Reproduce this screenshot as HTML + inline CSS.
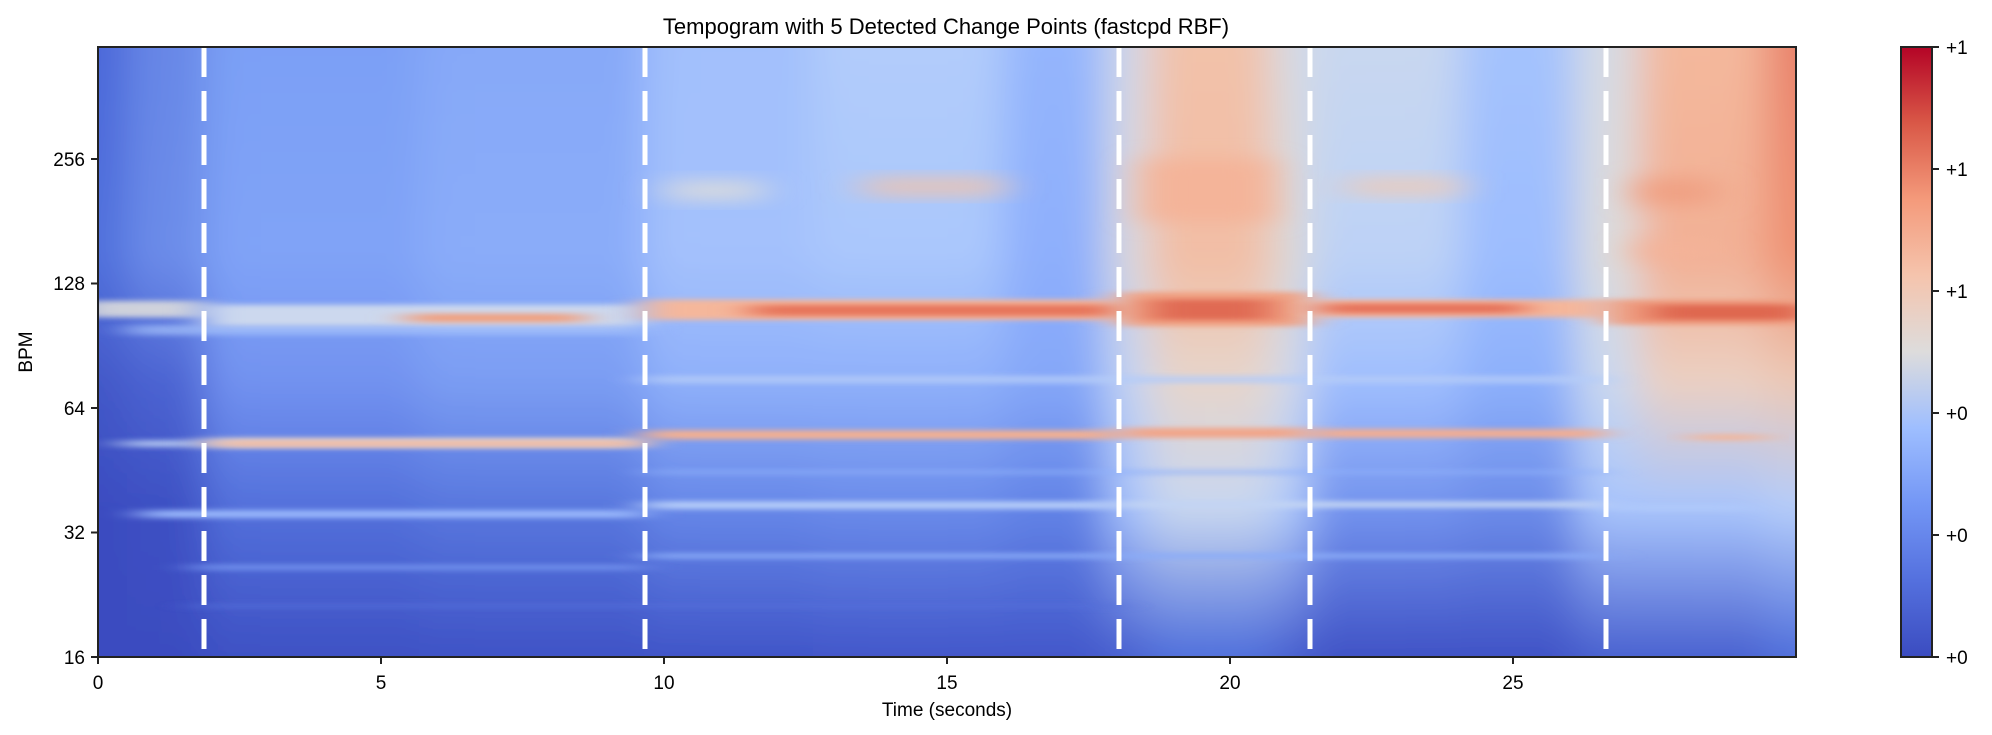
<!DOCTYPE html>
<html><head><meta charset="utf-8"><style>
html,body{margin:0;padding:0;background:#fff;}
svg{display:block;font-family:"Liberation Sans","DejaVu Sans",sans-serif;}
</style></head><body>
<svg width="1992" height="735" viewBox="0 0 1992 735" xmlns="http://www.w3.org/2000/svg">
<defs>
<clipPath id="pc"><rect x="77" y="37" width="1336" height="480"/></clipPath>
<filter id="bc" x="-10%" y="-10%" width="120%" height="120%"><feGaussianBlur stdDeviation="16 10"/></filter>
<filter id="bb" x="-30%" y="-300%" width="160%" height="700%"><feGaussianBlur stdDeviation="14 2"/></filter>
<filter id="bs" x="-60%" y="-60%" width="220%" height="220%"><feGaussianBlur stdDeviation="16 7"/></filter>
<linearGradient id="cb" x1="0" y1="1" x2="0" y2="0">
<stop offset="0" stop-color="#3b4cc0"/><stop offset="0.125" stop-color="#5470de"/>
<stop offset="0.25" stop-color="#7396f5"/><stop offset="0.375" stop-color="#9ebeff"/>
<stop offset="0.5" stop-color="#dddcdc"/><stop offset="0.625" stop-color="#f5c4ad"/>
<stop offset="0.75" stop-color="#f49a7b"/><stop offset="0.875" stop-color="#d95847"/>
<stop offset="1" stop-color="#b40426"/></linearGradient>
</defs>
<g transform="scale(1.2704 1.2694)">
<g clip-path="url(#pc)">
<g filter="url(#bc)">
<g id="cols"></g>
</g>
<g id="bands"></g>
</g>
</g>
<g stroke="#fff" stroke-width="5" stroke-dasharray="30 14">
<line x1="204" y1="47" x2="204" y2="657"/><line x1="645" y1="47" x2="645" y2="657"/>
<line x1="1119" y1="47" x2="1119" y2="657"/><line x1="1310" y1="47" x2="1310" y2="657"/>
<line x1="1606" y1="47" x2="1606" y2="657"/></g>
<rect x="98" y="47" width="1698" height="610" fill="none" stroke="#222" stroke-width="2"/>
<g stroke="#222" stroke-width="2">
<line x1="98" y1="657" x2="98" y2="664"/><line x1="381" y1="657" x2="381" y2="664"/>
<line x1="664" y1="657" x2="664" y2="664"/><line x1="947" y1="657" x2="947" y2="664"/>
<line x1="1230" y1="657" x2="1230" y2="664"/><line x1="1513" y1="657" x2="1513" y2="664"/>
<line x1="91" y1="657" x2="98" y2="657"/><line x1="91" y1="532.5" x2="98" y2="532.5"/>
<line x1="91" y1="408" x2="98" y2="408"/><line x1="91" y1="283.5" x2="98" y2="283.5"/>
<line x1="91" y1="159" x2="98" y2="159"/></g>
<g font-size="19" fill="#000" text-anchor="middle">
<text x="98" y="689">0</text><text x="381" y="689">5</text><text x="664" y="689">10</text>
<text x="947" y="689">15</text><text x="1230" y="689">20</text><text x="1513" y="689">25</text>
<text x="947" y="716">Time (seconds)</text>
<text x="946" y="34" font-size="22">Tempogram with 5 Detected Change Points (fastcpd RBF)</text>
<text transform="translate(32 352) rotate(-90)">BPM</text>
</g>
<g font-size="19" fill="#000" text-anchor="end">
<text x="85" y="664">16</text><text x="85" y="539">32</text><text x="85" y="415">64</text>
<text x="85" y="290">128</text><text x="85" y="166">256</text></g>
<rect x="1901" y="47" width="31" height="610" fill="url(#cb)" stroke="#222" stroke-width="2"/>
<g stroke="#222" stroke-width="2">
<line x1="1932" y1="47" x2="1939" y2="47"/><line x1="1932" y1="169" x2="1939" y2="169"/>
<line x1="1932" y1="291" x2="1939" y2="291"/><line x1="1932" y1="413" x2="1939" y2="413"/>
<line x1="1932" y1="535" x2="1939" y2="535"/><line x1="1932" y1="657" x2="1939" y2="657"/></g>
<g font-size="19" fill="#000">
<text x="1946" y="54">+1</text><text x="1946" y="176">+1</text><text x="1946" y="298">+1</text>
<text x="1946" y="420">+0</text><text x="1946" y="542">+0</text><text x="1946" y="664">+0</text></g>
<script>
(function(){
var NS="http://www.w3.org/2000/svg";
var defs=document.querySelector("defs");
var cols=[
[40,100,["#4a66d8","#5070dc","#4358c8","#3b4cc0","#3b4cc0"]],
[100,161,["#6686e6","#6c8ce9","#4c64d2","#3d50c3","#3b4cc0"]],
[161,330,["#7b9ff5","#80a3f7","#7292f0","#5370db","#3e51c4"]],
[330,507,["#86a8f8","#8aacf9","#7b9df3","#5877de","#3f53c6"]],
[507,640,["#a2c0fc","#a4c1fc","#8fb0fa","#6687e8","#4055c8"]],
[640,790,["#b3cdfa","#aac7fc","#8fb0fa","#6a8bea","#4257ca"]],
[790,870,["#95b6fd","#8eaffc","#85a7f8","#6283e6","#4257ca"]],
[870,905,["#d0d9ea","#d8d9df","#c2d4f4","#a6c2fc","#4a62d0"]],
[905,1000,["#f2c2aa","#f2bea5","#e6d5cb","#c8d7f0","#5070dc"]],
[1000,1031,["#d5dbe5","#dcd9d6","#d0d9ea","#b0cafb","#4a62d0"]],
[1031,1150,["#cad8ef","#bdd2f6","#9fbefe","#7393ee","#4053c6"]],
[1150,1240,["#a5c3fd","#9dbdfe","#8db0fb","#6c8ce9","#4053c6"]],
[1240,1290,["#d5dbe5","#dcdcdc","#cad8ef","#a8c4fc","#4a62d0"]],
[1290,1390,["#f4b99d","#f2b095","#ebd0c2","#a9c5fc","#4a62d0"]],
[1390,1450,["#e8806a","#ef9273","#ecc8b5","#b5cdfa","#5070dc"]]];
var cg=document.getElementById("cols");
cols.forEach(function(c,i){
 var g=document.createElementNS(NS,"linearGradient");g.setAttribute("id","cg"+i);
 g.setAttribute("x1","0");g.setAttribute("y1","0");g.setAttribute("x2","0");g.setAttribute("y2","1");
 var offs=[0,(200-10)/540,(300-10)/540,(400-10)/540,(517-10)/540];
 c[2].forEach(function(col,j){var s=document.createElementNS(NS,"stop");s.setAttribute("offset",offs[j]);s.setAttribute("stop-color",col);g.appendChild(s);});
 var s=document.createElementNS(NS,"stop");s.setAttribute("offset",1);s.setAttribute("stop-color",c[2][4]);g.appendChild(s);
 defs.appendChild(g);
 var r=document.createElementNS(NS,"rect");r.setAttribute("x",c[0]);r.setAttribute("width",c[1]-c[0]+1);
 r.setAttribute("y",10);r.setAttribute("height",540);r.setAttribute("fill","url(#cg"+i+")");cg.appendChild(r);
});
var bands=[
[60,161,237,13,"#dcdcdc",0.9,"bb"],[100,507,256,8,"#a6c2fb",0.7,"bb"],
[161,507,240,17,"#ccd8ee",1,"bb"],[320,460,247,7,"#f0a080",1,"bb"],
[507,881,236,16,"#f5b79b",1,"bb"],[590,880,240,9,"#e7765c",1,"bb"],
[881,1031,230,27,"#f0a082",1,"bb"],[905,1000,236,16,"#e06a52",1,"bb"],
[1031,1264,236,14,"#f5b79b",1,"bb"],[1040,1200,239,8,"#e6735b",1,"bb"],
[1264,1420,236,20,"#ef9d80",1,"bb"],[1300,1420,240,12,"#df6750",1,"bb"],
[95,161,347,5,"#c0d3f5",0.9,"bb"],[161,507,345,8,"#e6d6ce",1,"bb"],[170,507,348,3,"#f4ad90",1,"bb"],
[507,881,339,7,"#f5b090",1,"bb"],[881,1031,337,8,"#f1a68a",1,"bb"],[1031,1264,338,7,"#f3ad92",1,"bb"],
[1330,1390,342,5,"#f2b69b",1,"bb"],
[110,507,402,6,"#9ab8fc",1,"bb"],[507,881,395,6,"#b6cdf9",1,"bb"],[881,1264,395,5,"#c2d4f4",1,"bb"],[1264,1380,398,4,"#b0cafb",1,"bb"],
[150,507,445,4,"#7393ee",1,"bb"],[507,881,436,4,"#89abf8",1,"bb"],[881,1264,436,4,"#8aacf8",1,"bb"],
[150,881,476,3,"#5570da",0.8,"bb"],
[507,1264,296,6,"#b5ccf8",0.8,"bb"],[507,1264,370,4,"#8fb0fa",0.6,"bb"],
[525,600,143,14,"#dcdcdc",1,"bs"],[680,790,141,12,"#f1c3ab",1,"bs"],[1060,1150,141,12,"#efcab6",1,"bs"],
[900,1000,125,50,"#f4b499",1,"bs"],[1290,1350,140,22,"#f0a083",1,"bs"],[1290,1350,190,16,"#f4b399",1,"bs"]];
var bg=document.getElementById("bands");
bands.forEach(function(b){var r=document.createElementNS(NS,"rect");r.setAttribute("x",b[0]);r.setAttribute("width",b[1]-b[0]);
 r.setAttribute("y",b[2]);r.setAttribute("height",b[3]);r.setAttribute("fill",b[4]);r.setAttribute("opacity",b[5]);
 r.setAttribute("filter","url(#"+b[6]+")");bg.appendChild(r);});
})();
</script>
</svg>
</body></html>
